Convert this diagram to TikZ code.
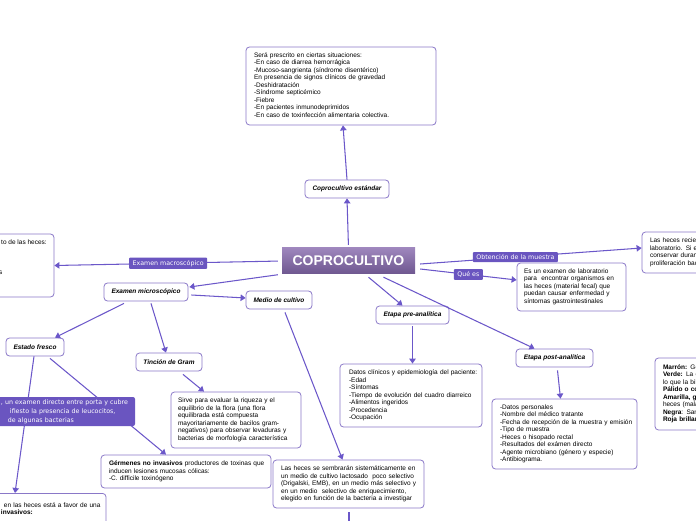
\documentclass[tikz,border=0pt]{standalone}
\usepackage{fontspec}
\setmainfont{Liberation Sans}
\newfontfamily\lblfont{DejaVu Sans}
\usetikzlibrary{arrows.meta,calc}
\definecolor{edgec}{HTML}{6B57C9}
\definecolor{boxc}{HTML}{8A78C8}
\definecolor{lblc}{HTML}{6A55C0}
\definecolor{topc}{HTML}{9E86BD}
\definecolor{botc}{HTML}{6E578F}
\newcommand{\tlines}[1]{\begin{tabular}{@{}l@{}}#1\end{tabular}}
\begin{document}
\begin{tikzpicture}[x=1pt,y=1pt,
  conn/.style={draw=edgec,line width=1.05pt},
  arr/.style={conn,-{Triangle[length=5pt,width=6.5pt]}},
  tbox/.style={draw=boxc,line width=0.8pt,rounded corners=3.5pt,fill=white,align=left,
    font=\fontsize{6.5}{7.5}\selectfont,inner xsep=8pt,inner ysep=3pt},
  kbox/.style={draw=boxc,line width=0.8pt,rounded corners=3.5pt,fill=white,
    font=\fontsize{6.5}{7.5}\selectfont\bfseries\itshape,inner sep=0pt},
  elbl/.style={fill=lblc,rounded corners=1pt,text=white,
    font=\lblfont\fontsize{6.3}{7}\selectfont,inner xsep=3.5pt,inner ysep=2.5pt},
  frag/.style={inner sep=0pt,font=\fontsize{6.5}{7.5}\selectfont},
]
\useasboundingbox (0,0) rectangle (696,520);
\clip (0,0) rectangle (696,520);

% central node
\node[top color=topc,bottom color=botc,minimum width=133pt,minimum height=26pt,inner sep=0pt,
  text=white,font=\fontsize{14}{16}\selectfont\bfseries] (cop) at (348.5,259) {COPROCULTIVO};

% keyword boxes
\node[kbox,minimum width=84pt,minimum height=18pt] (std) at (347,331) {Coprocultivo estándar};
\node[kbox,minimum width=84pt,minimum height=18pt] (micro) at (146,228) {Examen microscópico};
\node[kbox,minimum width=66pt,minimum height=18pt] (medio) at (279,220) {Medio de cultivo};
\node[kbox,minimum width=58pt,minimum height=18pt] (fresco) at (35,173) {Estado fresco};
\node[kbox,minimum width=66pt,minimum height=18pt] (gram) at (169,158) {Tinción de Gram};
\node[kbox,minimum width=73pt,minimum height=18pt] (pre) at (412.5,205) {Etapa pre-analítica};
\node[kbox,minimum width=77pt,minimum height=18pt] (post) at (554.5,162) {Etapa post-analítica};

% text boxes
\node[tbox,text width=174pt,minimum height=78pt] (presc) at (341,434) {\tlines{Será prescrito en ciertas situaciones:\\
-En caso de diarrea hemorrágica\\
-Mucoso-sangrienta (síndrome disentérico)\\
En presencia de signos clínicos de gravedad\\
-Deshidratación\\
-Síndrome septicémico\\
-Fiebre\\
-En pacientes inmunodeprimidos\\
-En caso de toxinfección alimentaria colectiva.}};

\node[draw=boxc,line width=0.8pt,rounded corners=3.5pt,fill=white,minimum width=62pt,minimum height=63pt] (macro) at (23,254.5) {};
\node[frag,anchor=base west] (macroa) at (1,275.5) {to de las heces:};
\node[frag,anchor=base west] (macrob) at (-1,245.5) {s};

\node[tbox,text width=116pt,minimum height=56pt,inner xsep=7pt] (sirve) at (236,100) {\tlines{Sirve para evaluar la riqueza y el\\
equilibrio de la flora (una flora\\
equilibrada está compuesta\\
mayoritariamente de bacilos gram-\\
negativos) para observar levaduras y\\
bacterias de morfología característica}};

\node[tbox,text width=154pt,minimum height=33pt] (germ) at (186,48.5) {\tlines{\textbf{Gérmenes no invasivos} productores de toxinas que\\
inducen lesiones mucosas cólicas:\\
-C. difficile toxinógeno}};

\node[tbox,text width=135pt,minimum height=48pt] (siem) at (348.5,36) {\tlines{Las heces se sembrarán sistemáticamente en\\
un medio de cultivo lactosado\ \ poco selectivo\\
(Drigalski, EMB), en un medio más selectivo y\\
en un medio\ \ selectivo de enriquecimiento,\\
elegido en función de la bacteria a investigar}};

\node[tbox,text width=94pt,anchor=north,inner ysep=8.5pt] (bl) at (51,27) {\tlines{en las heces está a favor de una\\
\hspace*{-3pt}\textbf{invasivos:}\\ \ \\ \ }};

\node[tbox,text width=124pt,minimum height=63pt,inner xsep=9pt] (datos) at (411,124.5) {\tlines{Datos clínicos y epidemiología del paciente:\\
-Edad\\
-Síntomas\\
-Tiempo de evolución del cuadro diarreico\\
-Alimentos ingeridos\\
-Procedencia\\
-Ocupación}};

\node[tbox,text width=129pt,minimum height=70pt] (pers) at (564.5,86) {\tlines{-Datos personales\\
-Nombre del médico tratante\\
-Fecha de recepción de la muestra y emisión\\
-Tipo de muestra\\
-Heces o hisopado rectal\\
-Resultados del exámen directo\\
-Agente microbiano (género y especie)\\
-Antibiograma.}};

\node[tbox,text width=95pt,minimum height=48pt,inner xsep=7pt] (esun) at (571.5,233) {\tlines{Es un examen de laboratorio\\
para\ \ encontrar organismos en\\
las heces (material fecal) que\\
puedan causar enfermedad y\\
síntomas gastrointestinales}};

\node[tbox,text width=102pt,minimum height=41pt] (recie) at (701,267.5) {\tlines{Las heces recie\\
laboratorio. Si e\\
conservar duran\\
proliferación bac}};

\node[tbox,text width=89pt,minimum height=72pt] (color) at (707.5,126) {\tlines{\textbf{Marrón:} Ge\\
\textbf{Verde:} La c\\
lo que la bil\\
\textbf{Pálido o co}\\
\textbf{Amarilla, g}\\
heces (mala\\
\textbf{Negra}: San\\
\textbf{Roja brillan}}};

% connectors
\draw[arr,shorten <=3pt] (cop.north) -- (std.south);
\draw[arr] (std.north) -- ($(presc.south)+(2,0)$);
\draw[arr,shorten <=4pt] (cop.west) -- node[elbl] (lmacro) {Examen macroscópico} (macro.east);
\draw[arr,shorten <=4pt] (cop.south west) -- ($(micro.east)+(1,5)$);
\draw[arr] ($(micro.east)+(3,-3)$) -- ($(medio.west)+(0,2)$);
\draw[arr] ($(micro.south)+(-22,-2)$) -- ($(fresco.north)+(20,0)$);
\draw[arr] ($(micro.south)+(5,-2)$) -- ($(gram.north)+(-3,0)$);
\draw[arr] ($(fresco.south)+(15,-2)$) -- ($(germ.north)+(-20,0)$);
\draw[arr] ($(fresco.south)+(-1,0)$) -- ($(bl.north)+(-36,0)$);
\draw[arr] ($(gram.south)+(14,-3)$) -- ($(sirve.north)+(-32,0)$);
\draw[arr] ($(medio.south)+(6,-3)$) -- ($(siem.north)+(-6,0)$);
\coordinate (sdown) at (349,-5);
\draw[conn] ($(siem.south)+(0.5,-4)$) -- (sdown);
\draw[arr] ($(cop.south)+(20,-3)$) -- ($(pre.north)+(-10,0)$);
\draw[arr] ($(pre.south)+(0,-2)$) -- ($(datos.north)+(1.5,0)$);
\draw[arr] ($(cop.south)+(35,-3)$) -- ($(post.north)+(-20,0)$);
\draw[arr] ($(post.south)+(3,-3)$) -- ($(pers.north)+(-4,0)$);
\draw[arr] ($(cop.east)+(5,-8)$) -- node[elbl] (lque) {Qué es} ($(esun.west)+(0,7)$);
\draw[arr] ($(cop.east)+(5,-3)$) -- node[elbl,pos=0.43] (lobt) {Obtención de la muestra} ($(recie.west)+(0,4.5)$);

% label box over the fresco -> germ connector
\node[fill=lblc,rounded corners=2pt,minimum width=155pt,minimum height=29pt,inner sep=0pt,
  text width=155pt,align=left,text=white,font=\lblfont\fontsize{6.3}{9}\selectfont] (fresclbl) at (57.5,108.5)
  {\begin{tabular}{@{}l@{}}\hspace*{21pt}, un examen directo entre porta y cubre\\
   \hspace*{30pt}ifiesto la presencia de leucocitos,\\
   \hspace*{28pt}de algunas bacterias\end{tabular}};
\end{tikzpicture}
\end{document}
